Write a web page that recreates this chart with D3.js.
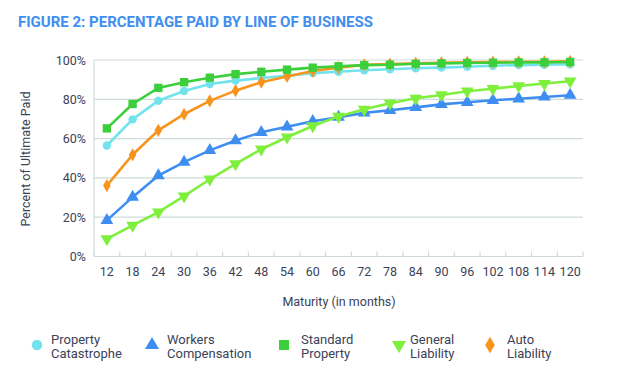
<!DOCTYPE html>
<html><head><meta charset="utf-8">
<script src="https://cdn.jsdelivr.net/npm/d3@7"></script>
<style>body{margin:0;background:#fff;}svg{display:block;font-family:Roboto,"Open Sans",sans-serif;}</style>
</head><body><svg id="c" width="620" height="372"></svg>
<script>
const months = [12,18,24,30,36,42,48,54,60,66,72,78,84,90,96,102,108,114,120];
const propertyCat = [56.5,69.8,79.3,84.2,87.8,89.5,90.8,92,93.3,94,94.8,95.3,95.8,96.1,96.6,97.1,97.4,97.6,97.8];
const workersComp = [18.4,30.2,41.2,48,54,59,63.2,66,68.8,70.9,73.1,74.4,75.9,77.4,78.5,79.5,80.3,81.2,82.1];
const standardProp = [65.2,77.6,85.8,88.7,91,92.8,94,95.1,96.1,96.8,97.4,97.6,98.1,98.3,98.5,98.6,98.8,98.8,99];
const generalLiab = [9,15.8,22.6,30.7,39.3,47.1,54.6,60.7,66.4,71.3,74.9,78,80.5,82.2,84.1,85.4,86.8,88,89.2];
const autoLiab = [36.1,51.8,64.2,72.4,79.2,84.4,88.7,91.6,94.4,96.1,97.5,97.9,98.3,98.6,98.8,98.9,99.1,99.1,99.3];
const yTicks = [0,20,40,60,80,100];
const seriesNames = ["Property\nCatastrophe","Workers\nCompensation","Standard\nProperty","General\nLiability","Auto\nLiability"];

const series = [
  {name:seriesNames[1], vals:workersComp, color:"#3d8ef0", sym:"up"},
  {name:seriesNames[3], vals:generalLiab, color:"#7ef03c", sym:"down"},
  {name:seriesNames[0], vals:propertyCat, color:"#72e3ec", sym:"circle"},
  {name:seriesNames[4], vals:autoLiab, color:"#f7941d", sym:"diamond"},
  {name:seriesNames[2], vals:standardProp, color:"#3ccf3c", sym:"square"}
];
const legendOrder = [2,0,4,1,3];

const svg = d3.select("#c");
const L=94, R=583, T=60, B=256.5;
const x = d3.scaleBand().domain(months).range([L,R]);
const y = d3.scaleLinear().domain([0,100]).range([B,T]);
const gridCol="#cfdada";

svg.append("text").attr("x",18).attr("y",27).attr("fill","#3f8ef0")
  .attr("font-weight","bold").attr("font-size",14.5)
  .attr("textLength",355).attr("lengthAdjust","spacingAndGlyphs")
  .text("FIGURE 2: PERCENTAGE PAID BY LINE OF BUSINESS");

svg.append("g").selectAll("line").data(yTicks.filter(d=>d>0)).join("line")
  .attr("x1",L).attr("x2",R).attr("y1",d=>y(d)).attr("y2",d=>y(d))
  .attr("stroke",gridCol).attr("stroke-width",1.2);
svg.append("line").attr("x1",L).attr("x2",L).attr("y1",T).attr("y2",B).attr("stroke",gridCol).attr("stroke-width",1.2);
svg.append("line").attr("x1",L).attr("x2",R).attr("y1",B).attr("y2",B).attr("stroke",gridCol).attr("stroke-width",1.2);
const bounds = months.map(m=>x(m)).concat([x(months[months.length-1])+x.bandwidth()]);
svg.append("g").selectAll("line").data(bounds).join("line")
  .attr("x1",d=>d).attr("x2",d=>d).attr("y1",B-5).attr("y2",B)
  .attr("stroke",gridCol).attr("stroke-width",1.2);

const xa = svg.append("g").attr("transform",`translate(0,${B})`)
  .call(d3.axisBottom(x).tickSize(0).tickPadding(11));
xa.select(".domain").remove();
xa.selectAll("text").attr("font-size",12.5).attr("fill","#3b4257").attr("font-family","Roboto,sans-serif");

const ya = svg.append("g").attr("transform",`translate(${L},0)`)
  .call(d3.axisLeft(y).tickValues(yTicks).tickSize(0).tickPadding(8).tickFormat(d=>d+"%"));
ya.select(".domain").remove();
ya.selectAll("text").attr("font-size",12.5).attr("fill","#3b4257").attr("font-family","Roboto,sans-serif");

svg.append("text").attr("transform","translate(30,159) rotate(-90)").attr("text-anchor","middle")
  .attr("font-size",12.5).attr("fill","#3b4257").text("Percent of Ultimate Paid");
svg.append("text").attr("x",339).attr("y",306).attr("text-anchor","middle")
  .attr("font-size",12.5).attr("fill","#3b4257").text("Maturity (in months)");

function symPath(sym, size){
  const map={circle:d3.symbolCircle, square:d3.symbolSquare, diamond:d3.symbolDiamond, up:d3.symbolTriangle, down:d3.symbolTriangle};
  return d3.symbol().type(map[sym]).size(size)();
}
const sizes={circle:55,square:70,diamond:50,up:70,down:70};
const cx = m => x(m)+x.bandwidth()/2;
const line = d3.line().x((d,i)=>cx(months[i])).y(d=>y(d));

series.forEach(s=>{
  const g=svg.append("g");
  g.append("path").attr("d",line(s.vals)).attr("fill","none").attr("stroke",s.color).attr("stroke-width",2.6);
  g.selectAll("path.m").data(s.vals).join("path").attr("class","m")
    .attr("d",symPath(s.sym,sizes[s.sym]))
    .attr("transform",(d,i)=>`translate(${cx(months[i])},${y(d)})${s.sym==="down"?" rotate(180)":""}`)
    .attr("fill",s.color);
});

const lx=[37,152,284,399,490], tx=[51,167,301,410,507];
legendOrder.forEach((si,k)=>{
  const s=series[si];
  const lsz={circle:85,square:100,diamond:80,up:85,down:85};
  svg.append("path").attr("d",symPath(s.sym,lsz[s.sym]))
    .attr("transform",`translate(${lx[k]},${345})${s.sym==="down"?" rotate(180)":""}`).attr("fill",s.color);
  const t=svg.append("text").attr("x",tx[k]).attr("y",343.5).attr("font-size",13).attr("fill","#3b4257");
  s.name.split("\n").forEach((ln,j)=>t.append("tspan").attr("x",tx[k]).attr("dy",j?14:0).text(ln));
});
</script></body></html>
